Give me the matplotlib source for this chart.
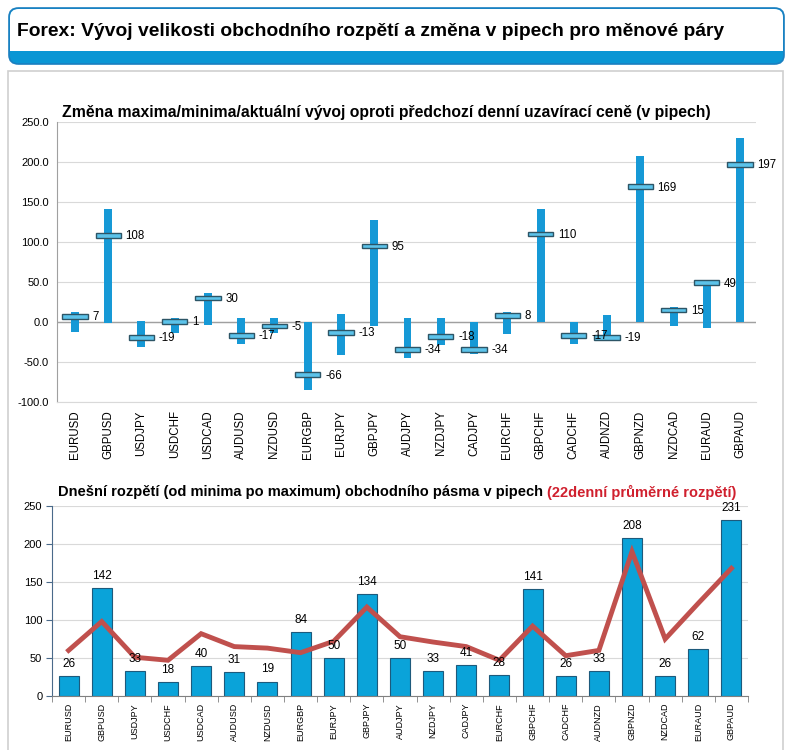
import matplotlib
matplotlib.use("Agg")
import matplotlib.pyplot as plt
from matplotlib.patches import FancyBboxPatch, Rectangle
import numpy as np

plt.rcParams['font.family'] = ['Liberation Sans', 'DejaVu Sans']

pairs = ["EURUSD", "GBPUSD", "USDJPY", "USDCHF", "USDCAD", "AUDUSD", "NZDUSD",
         "EURGBP", "EURJPY", "GBPJPY", "AUDJPY", "NZDJPY", "CADJPY", "EURCHF",
         "GBPCHF", "CADCHF", "AUDNZD", "GBPNZD", "NZDCAD", "EURAUD", "GBPAUD"]
change_high = [13, 141, 1, 5, 36, 5, 5, 0, 10, 128, 5, 5, 0, 13, 141, 0, 9, 207, 19, 52, 230]
change_low = [-13, -1, -31, -14, -4, -27, -14, -85, -41, -5, -45, -29, -40, -15, 0, -27, -20, 0, -5, -8, 0]
change_now = [7, 108, -19, 1, 30, -17, -5, -66, -13, 95, -34, -18, -34, 8, 110, -17, -19, 169, 15, 49, 197]
range_today = [26, 142, 33, 18, 40, 31, 19, 84, 50, 134, 50, 33, 41, 28, 141, 26, 33, 208, 26, 62, 231]
range_avg22 = [60, 98, 51, 47, 82, 65, 63, 57, 72, 117, 78, 71, 65, 47, 92, 53, 60, 190, 75, 122, 168]
top_yticks = [-100, -50, 0, 50, 100, 150, 200, 250]
bot_yticks = [0, 50, 100, 150, 200, 250]

W, H = 793, 750
fig = plt.figure(figsize=(W / 100, H / 100), dpi=100)

def fx(px):
    return px / W

def fy(py):
    return 1 - py / H

# Body panel (behind axes)
fig.patches.append(Rectangle((fx(8), fy(752)), fx(775), fy(71) - fy(752),
                             transform=fig.transFigure, facecolor="white",
                             edgecolor="#cfcfcf", lw=1.2, zorder=-5))

# Header box
hdr = FancyBboxPatch((fx(9), fy(64)), fx(775), fy(8) - fy(64),
                     boxstyle="round,pad=0,rounding_size=0.012",
                     transform=fig.transFigure, facecolor="#0a96d4",
                     edgecolor="#1a7fc0", lw=1.2, zorder=1)
fig.patches.append(hdr)
hdr2 = FancyBboxPatch((fx(10), fy(51)), fx(773), fy(9) - fy(51),
                      boxstyle="round,pad=0,rounding_size=0.011",
                      transform=fig.transFigure, facecolor="white",
                      edgecolor="none", zorder=2)
fig.patches.append(hdr2)
fig.patches.append(Rectangle((fx(10), fy(51)), fx(773), fy(40) - fy(51),
                             transform=fig.transFigure, facecolor="white",
                             edgecolor="none", zorder=2))
fig.text(fx(17), fy(31), "Forex: Vývoj velikosti obchodního rozpětí a změna v pipech pro měnové páry",
         fontweight='bold', fontsize=13.9, va='center', ha='left', zorder=3)

x = np.arange(len(pairs))
blue = "#1699d6"

# ---------- Top chart ----------
ax1 = fig.add_axes([fx(57), fy(402), fx(756) - fx(57), fy(122) - fy(402)])
ax1.set_xlim(-0.54, 20.48)
ax1.set_ylim(-100, 250)
ax1.set_yticks(top_yticks)
ax1.set_yticklabels([f"{v:.1f}" for v in top_yticks], fontsize=8)
ax1.grid(axis='y', color="#d9d9d9", lw=0.8)
ax1.set_axisbelow(True)
ax1.axhline(0, color="#a0a0a0", lw=1, zorder=1)
for s in ['top', 'right']:
    ax1.spines[s].set_visible(False)
ax1.spines['left'].set_color("#a0a0a0")
ax1.spines['bottom'].set_color("#d9d9d9")
ax1.tick_params(axis='y', length=0, pad=6)
ax1.tick_params(axis='x', length=0, pad=6)
ax1.set_xticks(x)
ax1.set_xticklabels(pairs, rotation=90, fontsize=8.3)
hi = np.array(change_high)
lo = np.array(change_low)
ax1.bar(x, hi - lo, bottom=lo, width=0.24, color=blue, zorder=2)
now = np.array(change_now)
ax1.bar(x, 6, bottom=now - 3, width=0.76, color="#5cc3ea", edgecolor="#2d5566", lw=1, zorder=3)
for xi, v in zip(x, change_now):
    ax1.text(xi + 0.52, v - 1, f"{v}", fontsize=8.3, va='center', ha='left', zorder=4)
fig.text(fx(62), fy(112), "Změna maxima/minima/aktuální vývoj oproti předchozí denní uzavírací ceně (v pipech)",
         fontsize=11.3, fontweight='bold', va='center', ha='left')

# ---------- Bottom chart ----------
ax2 = fig.add_axes([fx(52), fy(696), fx(748) - fx(52), fy(506) - fy(696)])
ax2.set_xlim(-0.5, 20.5)
ax2.set_ylim(0, 250)
ax2.set_yticks(bot_yticks)
ax2.set_yticklabels([str(v) for v in bot_yticks], fontsize=8)
ax2.grid(axis='y', color="#d9d9d9", lw=0.8)
ax2.set_axisbelow(True)
for s in ['top', 'right']:
    ax2.spines[s].set_visible(False)
ax2.spines['left'].set_color("#4a6a8a")
ax2.spines['bottom'].set_color("#808080")
ax2.set_xticks(x)
ax2.set_xticklabels(pairs, rotation=90, fontsize=6.5)
ax2.set_xticks(np.arange(-0.5, 21, 1), minor=True)
ax2.tick_params(axis='x', which='major', length=0, pad=5)
ax2.tick_params(axis='x', which='minor', length=4, color="#808080")
ax2.tick_params(axis='y', length=4, color="#4a6a8a", pad=3)
ax2.bar(x, range_today, width=0.6, color="#0aa3d9", edgecolor="#1d5a7c", lw=0.8, zorder=2)
ax2.plot(x, range_avg22, color="#c0504d", lw=3.5, zorder=3, solid_joinstyle='miter')
for xi, v in zip(x, range_today):
    ax2.text(xi, v + 8, f"{v}", fontsize=8.5, ha='center', va='bottom', zorder=4)

t1 = fig.text(fx(58), fy(492), "Dnešní rozpětí (od minima po maximum) obchodního pásma v pipech ",
              fontsize=10.5, fontweight='bold', va='center', ha='left')
fig.canvas.draw()
bb = t1.get_window_extent(renderer=fig.canvas.get_renderer())
fig.text(bb.x1 / W, fy(492), "(22denní průměrné rozpětí)", color="#d0202e",
         fontsize=10.5, fontweight='bold', va='center', ha='left')

fig.savefig("out.png", dpi=100)
